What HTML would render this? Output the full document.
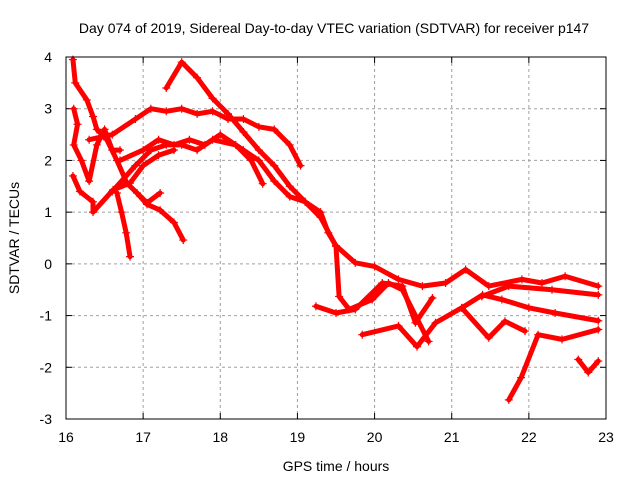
<!DOCTYPE html>
<html><head><meta charset="utf-8"><style>
body{margin:0;background:#fff}
svg{display:block;font-family:"Liberation Sans",sans-serif}
</style></head><body>
<svg id="chart" width="640" height="480">
<text x="334" y="33" font-size="14" text-anchor="middle">Day 074 of 2019, Sidereal Day-to-day VTEC variation (SDTVAR) for receiver p147</text>
<text x="336" y="471" font-size="14" text-anchor="middle">GPS time / hours</text>
<text transform="translate(19,238) rotate(-90)" font-size="14" text-anchor="middle">SDTVAR / TECUs</text>
<g id="grid"></g>
<g id="ticks"></g>
<g id="series"></g>
<rect x="66" y="57" width="540" height="362" fill="none" stroke="#000" stroke-width="1"/>
</svg>
<script>
const xTicks=[16,17,18,19,20,21,22,23];
const yTicks=[-3,-2,-1,0,1,2,3,4];
const traceA=[[16.3,2.4],[16.6,2.5],[16.9,2.8],[17.1,3.0],[17.3,2.95],[17.5,3.0],[17.7,2.9],[17.9,2.95],[18.1,2.8],[18.3,2.8],[18.5,2.65],[18.7,2.6],[18.9,2.3],[19.04,1.9]];
const traceB=[[16.6,1.4],[16.9,1.9],[17.1,2.2],[17.3,2.3],[17.5,2.3],[17.7,2.2],[17.9,2.4],[18.2,2.3],[18.4,2.0],[18.55,1.55]];
const traceC=[[16.7,2.0],[17.0,2.2],[17.2,2.4],[17.4,2.3],[17.6,2.4],[17.8,2.3],[18.0,2.5],[18.3,2.2],[18.5,2.0],[18.7,1.6],[18.9,1.3],[19.1,1.2],[19.3,0.9],[19.5,0.34],[19.54,-0.63],[19.67,-0.88],[19.97,-0.69],[20.18,-0.37],[20.36,-0.5],[20.7,-1.5]];
const traceD=[[17.3,3.4],[17.5,3.9],[17.7,3.6],[17.9,3.2],[18.1,2.9],[18.3,2.55],[18.5,2.2],[18.7,1.9],[18.9,1.5],[19.1,1.2],[19.3,1.0],[19.4,0.6],[19.5,0.35],[19.75,0.02],[20.0,-0.05],[20.31,-0.3],[20.62,-0.43],[20.92,-0.37],[21.18,-0.11],[21.48,-0.43],[21.91,-0.3],[22.17,-0.37],[22.47,-0.24],[22.9,-0.43]];
const traceE=[[16.09,3.95],[16.12,3.5],[16.27,3.17],[16.35,2.85],[16.4,2.6],[16.53,2.4],[16.66,2.0],[16.79,1.56],[17.05,1.18],[17.22,1.37]];
const traceF=[[16.92,1.37],[17.05,1.15],[17.22,1.04],[17.4,0.8],[17.52,0.46]];
const traceG=[[16.66,1.37],[16.72,1.0],[16.78,0.6],[16.83,0.14]];
const traceH=[[16.09,1.7],[16.18,1.4],[16.35,1.2],[16.35,1.0],[16.61,1.43],[16.83,1.56],[17.0,1.9],[17.2,2.1],[17.4,2.2]];
const traceI=[[16.1,3.0],[16.15,2.7],[16.1,2.3],[16.2,2.0],[16.3,1.6],[16.4,2.3],[16.5,2.6],[16.6,2.2],[16.7,2.2]];
const traceJ=[[19.24,-0.82],[19.5,-0.95],[19.75,-0.88],[20.1,-0.37],[20.36,-0.43],[20.53,-1.14],[20.75,-0.66]];
const traceK=[[19.84,-1.37],[20.31,-1.2],[20.55,-1.6],[20.79,-1.14],[21.13,-0.85],[21.48,-1.43],[21.69,-1.11],[21.95,-1.3]];
const traceL=[[21.39,-0.63],[21.74,-0.43],[22.3,-0.5],[22.9,-0.6]];
const traceM=[[21.13,-0.85],[21.4,-0.6],[21.65,-0.69],[22.0,-0.85],[22.34,-0.95],[22.9,-1.1]];
const traceN=[[21.74,-2.63],[21.9,-2.2],[22.12,-1.37],[22.43,-1.46],[22.9,-1.27]];
const traceO=[[22.64,-1.85],[22.77,-2.1],[22.9,-1.88]];
const traces=[traceA,traceB,traceC,traceD,traceE,traceF,traceG,traceH,traceI,traceJ,traceK,traceL,traceM,traceN,traceO];

const NS='http://www.w3.org/2000/svg';
const X=h=>66+(h-16)*540/7;
const Y=v=>419-(v+3)*362/7;
function mk(tag,attrs,parent){const e=document.createElementNS(NS,tag);for(const k in attrs)e.setAttribute(k,attrs[k]);parent.appendChild(e);return e;}
const grid=document.getElementById('grid'),ticks=document.getElementById('ticks'),series=document.getElementById('series');
xTicks.forEach(t=>{
  const x=X(t);
  if(t>16&&t<23){const g=mk('line',{x1:x,x2:x,y1:57,y2:419,stroke:'#a0a0a0','stroke-dasharray':'3,3'},grid);
  
  }
  mk('line',{x1:x,x2:x,y1:419,y2:413,stroke:'#000'},ticks);
  mk('line',{x1:x,x2:x,y1:57,y2:63,stroke:'#000'},ticks);
  const l=mk('text',{x:x,y:442,'font-size':14,'text-anchor':'middle'},ticks);l.textContent=t;
  
  
});
yTicks.forEach(t=>{
  const y=Y(t);
  if(t>-3&&t<4){const g=mk('line',{x1:66,x2:606,y1:y,y2:y,stroke:'#a0a0a0','stroke-dasharray':'3,3'},grid);
  
  }
  mk('line',{x1:66,x2:72,y1:y,y2:y,stroke:'#000'},ticks);
  mk('line',{x1:606,x2:600,y1:y,y2:y,stroke:'#000'},ticks);
  const l=mk('text',{x:52,y:y+5,'font-size':14,'text-anchor':'end'},ticks);l.textContent=t;
  
  
});
traces.forEach((tr,i)=>{
  const g=mk('g',{},series);
  
  
  mk('polyline',{points:tr.map(p=>X(p[0])+','+Y(p[1])).join(' '),fill:'none',stroke:'#f00','stroke-width':5,'stroke-linejoin':'round','stroke-linecap':'round'},g);
  tr.forEach(p=>{const x=X(p[0]),y=Y(p[1]);
    const m=mk('path',{d:`M${x-4},${y}H${x+4}M${x},${y-4}V${y+4}`,stroke:'#f00','stroke-width':1.2},g);
    
    
  });
});
</script>
</body></html>
